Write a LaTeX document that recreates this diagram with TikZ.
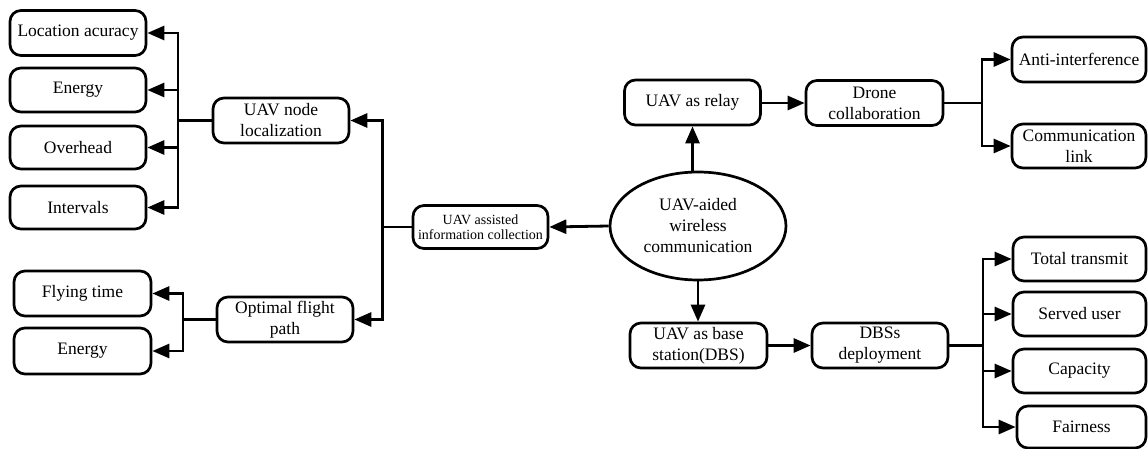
\documentclass[tikz,border=0pt]{standalone}
\usepackage{fontspec}
\setmainfont{Liberation Serif}
\usetikzlibrary{shapes.geometric,arrows.meta}
\begin{document}
\begin{tikzpicture}[x=1pt,y=-1pt,
  box/.style={draw,line width=2.7pt,rounded corners=11pt,align=center,
    minimum width=136pt,minimum height=45pt,inner sep=1pt,
    font=\fontsize{17.5}{21}\selectfont},
  smallbox/.style={box,font=\fontsize{14}{15}\selectfont},
  hub/.style={draw,line width=2.7pt,ellipse,minimum width=176pt,minimum height=108pt,
    inner sep=0pt,align=center,font=\fontsize{17.5}{21}\selectfont},
  link/.style={line width=2.8pt},
  arr/.style={link,-{Triangle[length=17pt,width=14pt]}}]
\useasboundingbox (0,0) rectangle (1148,449);

% centre and first level
\node[hub] (hub) at (698,226) {UAV-aided\\wireless\\communication};
\node[smallbox,minimum width=135pt,minimum height=43pt] (info) at (480.5,227) {UAV assisted\\information collection};
\node[box] (relay) at (692.5,102.5) {UAV as relay};
\node[box,minimum width=137pt] (dbs) at (698.5,345.5) {UAV as base\\station(DBS)};

% left branch
\node[box] (loc) at (281,120.5) {UAV node\\localization};
\node[box] (opt) at (285,319.5) {Optimal flight\\path};
\node[box] (acc) at (78,33) {Location acuracy};
\node[box,minimum height=44pt] (en1) at (78,90) {Energy};
\node[box,minimum height=43pt] (ovh) at (78,147.5) {Overhead};
\node[box,minimum height=43pt] (itv) at (78,207.5) {Intervals};
\node[box,minimum width=137pt] (fly) at (82.5,293.5) {Flying time};
\node[box,minimum width=137pt,minimum height=46pt] (en2) at (82.5,351) {Energy};

% upper right branch
\node[box,minimum width=137pt] (drone) at (874.5,103) {Drone\\collaboration};
\node[box,minimum width=134pt] (anti) at (1079,59.5) {Anti-interference};
\node[box,minimum width=134pt,minimum height=44pt] (clink) at (1079,146) {Communication\\link};

% lower right branch
\node[box] (dep) at (880,345.5) {DBSs\\deployment};
\node[box,minimum width=133pt,minimum height=44pt] (tot) at (1079.5,259) {Total transmit};
\node[box,minimum width=133pt,minimum height=44pt] (srv) at (1079.5,314) {Served user};
\node[box,minimum width=133pt,minimum height=44pt] (cap) at (1079.5,371) {Capacity};
\node[box,minimum width=129pt,minimum height=42pt] (fair) at (1081.5,427) {Fairness};

% bus lines
\coordinate (busA) at (178,0);
\coordinate (busB) at (183,0);
\coordinate (busC) at (382.5,0);
\coordinate (busD) at (982,0);
\coordinate (busE) at (983,0);

% connectors from the hub
\draw[arr] (hub.west) -- (info.east);
\draw[arr] (hub.north -| relay) -- (relay.south);
\draw[arr] (hub.south) -- (dbs.north -| hub.south);
\draw[arr] (relay.east |- drone.west) -- (drone.west);
\draw[arr] (dbs.east |- dep.west) -- (dep.west);

% information collection
\draw[link] (info.west) -- (busC |- info.west);
\draw[arr] (busC |- info.west) |- (loc.east);
\draw[arr] (busC |- info.west) |- (opt.east);

% node localization
\draw[link] (loc.west) -- (busA |- loc.west);
\foreach \n in {acc,en1,ovh,itv}
  \draw[arr] (busA |- loc.west) |- (\n.east);

% flight path
\draw[link] (opt.west) -- (busB |- opt.west);
\foreach \n in {fly,en2}
  \draw[arr] (busB |- opt.west) |- (\n.east);

% drone collaboration
\draw[link] (drone.east) -- (busD |- drone.east);
\foreach \n in {anti,clink}
  \draw[arr] (busD |- drone.east) |- (\n.west);

% DBS deployment
\draw[link] (dep.east) -- (busE |- dep.east);
\foreach \n in {tot,srv,cap,fair}
  \draw[arr] (busE |- dep.east) |- (\n.west);
\end{tikzpicture}
\end{document}
